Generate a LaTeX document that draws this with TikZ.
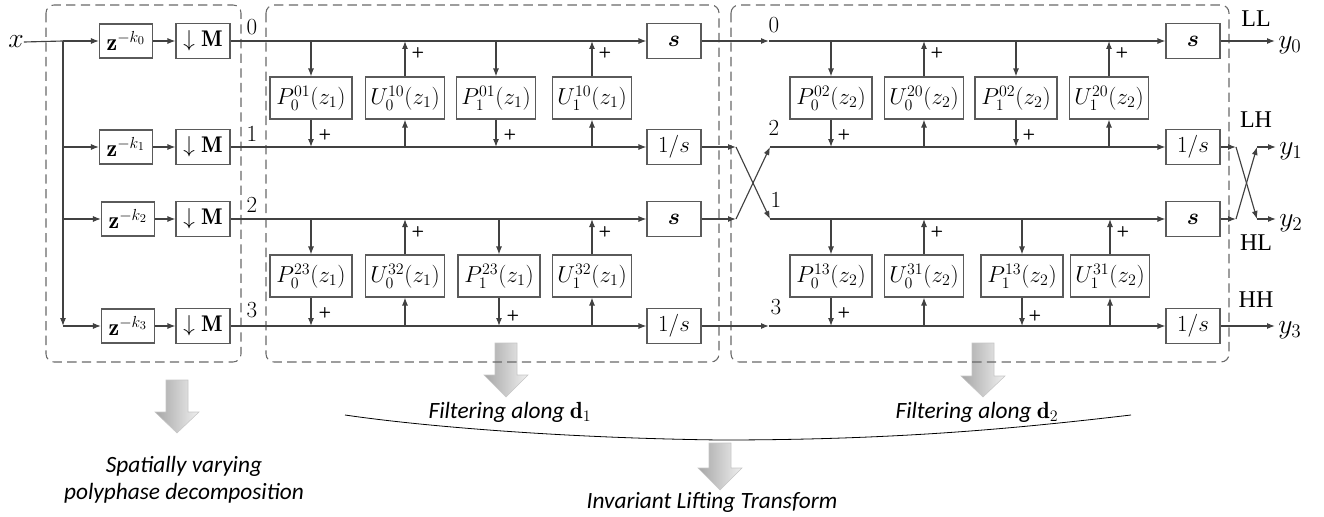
\documentclass[tikz,border=0pt]{standalone}
\usepackage{fontspec}
\usepackage{bm}
\newfontfamily\calib{Carlito}
\newfontfamily\tnr{Liberation Serif}
\usetikzlibrary{arrows.meta}
\definecolor{ln}{RGB}{65,65,65}
\definecolor{bx}{RGB}{90,90,90}
\definecolor{dsh}{RGB}{105,105,105}
\newcommand\garrow[4]{\shade[left color=gray!70,right color=gray!12,draw=gray!45,line width=0.4pt]
 (#1-11,#2) -- (#1+11,#2) -- (#1+11,#3) -- (#1+22,#3) -- (#1,#4) -- (#1-22,#3) -- (#1-11,#3) -- cycle;}
\begin{document}
\begin{tikzpicture}[x=0.75pt,y=-0.75pt,
 wire/.style={draw=ln,line width=0.85pt},
 arr/.style={wire,-{Latex[length=6pt,width=4.5pt]}},
 blk/.style={draw=bx,line width=0.8pt,inner sep=0pt,font=\fontsize{17}{20}\selectfont},
 zb/.style={blk,minimum width=39.75pt,minimum height=25.5pt,font=\fontsize{18}{20}\selectfont},
 sb/.style={blk,minimum width=40.5pt,minimum height=26.25pt},
 lb/.style={blk,minimum height=31.5pt},
 pw/.style={lb,minimum width=61.5pt},
 uw/.style={lb,minimum width=59.25pt},
 grp/.style={draw=dsh,line width=0.8pt,dash pattern=on 7pt off 4pt,rounded corners=6pt},
 plussign/.style={font=\sffamily\bfseries\fontsize{11}{11}\selectfont,inner sep=0pt},
 rowlab/.style={font=\fontsize{17}{17}\selectfont,inner sep=0pt},
 bandlab/.style={font=\tnr\fontsize{18}{18}\selectfont,inner sep=0pt},
 iolab/.style={font=\fontsize{21}{21}\selectfont,inner sep=0pt},
 captxt/.style={font=\calib\itshape\fontsize{17.5}{20}\selectfont,align=center,inner sep=0pt}
]
\useasboundingbox (0,0) rectangle (1324,517);

% ---------- gradient arrows and brace curve ----------
\garrow{177}{380}{412}{433}
\garrow{506}{343}{375}{397}
\garrow{983}{343}{376}{397}
\garrow{720}{443}{468}{490}
\coordinate (cL) at (345,415);
\coordinate (cM) at (720,440);
\coordinate (cR) at (1131,415);
\draw[black,line width=0.6pt] (cL) .. controls (420,426) and (560,438) .. (cM) .. controls (900,440) and (1020,428) .. (cR);

% ---------- dashed groups ----------
\draw[grp] (46,5) rectangle (241,362);
\draw[grp] (266,5) rectangle (719,362);
\draw[grp] (731,5) rectangle (1229,362);

% ---------- left: polyphase ----------
\node[iolab] (x) at (16,42) {$x$};
\coordinate (b0) at (63,41);
\coordinate (b1) at (63,147);
\coordinate (b2) at (63,219);
\coordinate (b3) at (63,326);
\node[zb] (z0) at (126,41) {$\mathbf{z}^{-k_0}$};
\node[zb] (z1) at (126,147) {$\mathbf{z}^{-k_1}$};
\node[zb] (z2) at (128,219) {$\mathbf{z}^{-k_2}$};
\node[zb] (z3) at (128,326) {$\mathbf{z}^{-k_3}$};
\node[sb] (m0) at (203,41) {$\downarrow\mathbf{M}$};
\node[sb] (m1) at (203,147) {$\downarrow\mathbf{M}$};
\node[sb] (m2) at (203,219) {$\downarrow\mathbf{M}$};
\node[sb] (m3) at (203,326) {$\downarrow\mathbf{M}$};
\draw[wire] (x.east) -- (b0);
\draw[arr] (b0) -- (b3);
\draw[arr] (b0) -- (z0);
\draw[arr] (b1) -- (z1);
\draw[arr] (b2) -- (z2);
\draw[arr] (b3) -- (z3);
\draw[arr] (z0) -- (m0);
\draw[arr] (z1) -- (m1);
\draw[arr] (z2) -- (m2);
\draw[arr] (z3) -- (m3);
\node[rowlab] (l0) at (252,27) {$0$};
\node[rowlab] (l1) at (252,134) {$1$};
\node[rowlab] (l2) at (252,205) {$2$};
\node[rowlab] (l3) at (252,310) {$3$};

% ---------- middle: filtering along d1 ----------
\node[sb] (s0m) at (674,41) {$\bm{s}$};
\node[sb] (s1m) at (674,147) {$1/s$};
\node[sb] (s2m) at (674,219) {$\bm{s}$};
\node[sb] (s3m) at (674,326) {$1/s$};
\draw[arr] (m0) -- (s0m);
\draw[arr] (m1) -- (s1m);
\draw[arr] (m2) -- (s2m);
\draw[arr] (m3) -- (s3m);

\node[pw] (Pa0) at (311,98) {$P^{01}_0(z_1)$};
\node[uw] (Ua0) at (405,98) {$U^{10}_0(z_1)$};
\node[uw] (Pa1) at (496,98) {$P^{01}_1(z_1)$};
\node[uw] (Ua1) at (592,98) {$U^{10}_1(z_1)$};
\node[pw] (Pb0) at (311,276) {$P^{23}_0(z_1)$};
\node[uw] (Ub0) at (405,276) {$U^{32}_0(z_1)$};
\node[pw] (Pb1) at (499,276) {$P^{23}_1(z_1)$};
\node[uw] (Ub1) at (592,276) {$U^{32}_1(z_1)$};

% ---------- right: filtering along d2 ----------
\node[sb] (s0r) at (1193,41) {$\bm{s}$};
\node[sb] (s1r) at (1193,147) {$1/s$};
\node[sb] (s2r) at (1193,219) {$\bm{s}$};
\node[sb] (s3r) at (1193,326) {$1/s$};

\node[pw] (Pc0) at (831,98) {$P^{02}_0(z_2)$};
\node[uw] (Uc0) at (924,98) {$U^{20}_0(z_2)$};
\node[pw] (Pc1) at (1016,98) {$P^{02}_1(z_2)$};
\node[uw] (Uc1) at (1109,98) {$U^{20}_1(z_2)$};
\node[pw] (Pd0) at (831,276) {$P^{13}_0(z_2)$};
\node[uw] (Ud0) at (924,276) {$U^{31}_0(z_2)$};
\node[pw] (Pd1) at (1022,276) {$P^{13}_1(z_2)$};
\node[uw] (Ud1) at (1110,276) {$U^{31}_1(z_2)$};

% lifting arrows (predict: down, update: up)
\foreach \p/\top/\bot in {Pa0/s0m/s1m,Pa1/s0m/s1m,Pb0/s2m/s3m,Pb1/s2m/s3m,Pc0/s0r/s1r,Pc1/s0r/s1r,Pd0/s2r/s3r,Pd1/s2r/s3r}{
  \draw[arr] (\p.north |- \top) -- (\p.north);
  \draw[arr] (\p.south) -- (\p.south |- \bot);
}
\foreach \u/\top/\bot in {Ua0/s0m/s1m,Ua1/s0m/s1m,Ub0/s2m/s3m,Ub1/s2m/s3m,Uc0/s0r/s1r,Uc1/s0r/s1r,Ud0/s2r/s3r,Ud1/s2r/s3r}{
  \draw[arr] (\u.south |- \bot) -- (\u.south);
  \draw[arr] (\u.north) -- (\u.north |- \top);
}
% plus signs
\foreach \px/\py [count=\i] in {325/135,418/53,510/135,605/53,325/313,418/232,513/316,605/232,
  844/135,937/53,1029/135,1122/53,844/313,937/232,1035/316,1123/232}{
  \node[plussign] (pl\i) at (\px,\py) {+};
}

% between middle and right: straight rows and crossing
\coordinate (a0) at (769,41);
\coordinate (a3) at (769,326);
\coordinate (c1L) at (736,147);
\coordinate (c2L) at (736,219);
\coordinate (c1R) at (770,147);
\coordinate (c2R) at (770,219);
\draw[arr] (s0m) -- (a0);
\draw[arr] (a0) -- (s0r);
\draw[arr] (s3m) -- (a3);
\draw[arr] (a3) -- (s3r);
\draw[arr] (s1m) -- (c1L);
\draw[arr] (s2m) -- (c2L);
\draw[arr] (c1L) -- (c2R);
\draw[arr] (c2L) -- (c1R);
\draw[arr] (c1R) -- (s1r);
\draw[arr] (c2R) -- (s2r);
\node[rowlab] (r0) at (774,25) {$0$};
\node[rowlab] (r2) at (774,128) {$2$};
\node[rowlab] (r1) at (776,200) {$1$};
\node[rowlab] (r3) at (776,307) {$3$};

% outputs
\coordinate (t0) at (1275,41);
\coordinate (t1) at (1276,147);
\coordinate (t2) at (1276,219);
\coordinate (t3) at (1275,326);
\coordinate (d1L) at (1236,147);
\coordinate (d2L) at (1236,219);
\coordinate (d1R) at (1257,147);
\coordinate (d2R) at (1257,219);
\draw[arr] (s0r) -- (t0);
\draw[arr] (s3r) -- (t3);
\draw[arr] (s1r) -- (d1L);
\draw[arr] (s2r) -- (d2L);
\draw[arr] (d1L) -- (d2R);
\draw[arr] (d2L) -- (d1R);
\draw[arr] (d1R) -- (t1);
\draw[arr] (d2R) -- (t2);
\node[iolab,anchor=west] (y0) at (1278,45) {$y_0$};
\node[iolab,anchor=west] (y1) at (1279,151) {$y_1$};
\node[iolab,anchor=west] (y2) at (1279,223) {$y_2$};
\node[iolab,anchor=west] (y3) at (1278,330) {$y_3$};
\node[bandlab] (LL) at (1256,19) {LL};
\node[bandlab] (LH) at (1256,120) {LH};
\node[bandlab] (HL) at (1256,243) {HL};
\node[bandlab] (HH) at (1256,300) {HH};

% captions
\node[captxt] (cp1) at (184,480) {Spatially varying\\polyphase decomposition};
\node[captxt] (cp2) at (510,412) {Filtering along $\mathbf{d}_1$};
\node[captxt] (cp3) at (977,412) {Filtering along $\mathbf{d}_2$};
\node[captxt] (cp4) at (712,502) {Invariant Lifting Transform};
\end{tikzpicture}
\end{document}
